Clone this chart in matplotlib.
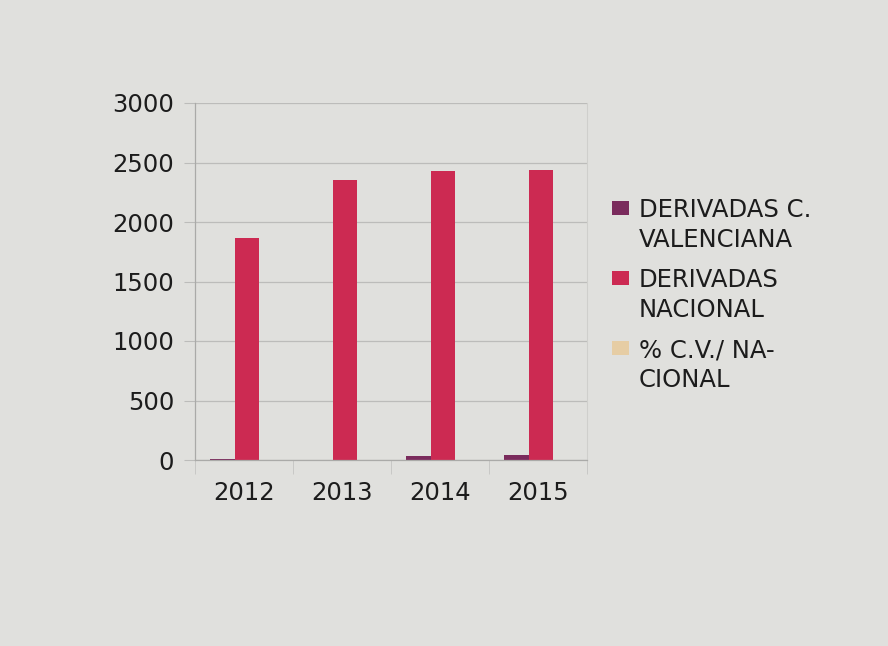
import numpy as np
import matplotlib.pyplot as plt
from matplotlib.patches import Rectangle

plt.rcParams['font.family'] = ['DejaVu Sans']

years = ['2012', '2013', '2014', '2015']
derivadas_cv = [12, 0, 30, 38]
derivadas_nacional = [1865, 2350, 2430, 2440]
pct_cv_nacional = [0.6, 0.0, 1.2, 1.6]

series_labels = ['DERIVADAS C.\nVALENCIANA', 'DERIVADAS\nNACIONAL', '% C.V./ NA-\nCIONAL']
colors = ['#7a2b5c', '#cc2a52', '#e6cda4']

paper = '#e0e0dd'
ink = '#1c1c1c'
W, H = 888, 646
fig = plt.figure(figsize=(W / 100, H / 100), dpi=100, facecolor=paper)
ax = fig.add_axes([195 / W, 1 - 460 / H, 392 / W, 357 / H])
ax.set_facecolor('none')

x = np.arange(len(years))
w = 0.25
shift = 0.03
ax.bar(x - w + shift, derivadas_cv, w, color=colors[0])
ax.bar(x + shift, derivadas_nacional, w, color=colors[1])
ax.bar(x + w + shift, pct_cv_nacional, w, color=colors[2])

ax.set_xlim(-0.5, len(years) - 0.5)
ax.set_ylim(0, 3000)
ax.set_yticks(range(0, 3001, 500))
ax.set_xticks(x)
ax.set_xticklabels(years)
ax.set_xticks(np.arange(-0.5, len(years), 1), minor=True)

ax.grid(axis='y', color='#bcbcba', linewidth=0.9)
ax.set_axisbelow(True)
ax.spines['top'].set_visible(False)
ax.spines['right'].set_color('#cfcfcc')
ax.spines['right'].set_linewidth(0.8)
for side in ['left', 'bottom']:
    ax.spines[side].set_color('#aaaaa8')
    ax.spines[side].set_linewidth(0.9)

ax.tick_params(axis='y', length=8, color='#bcbcba', pad=7, labelsize=17.5, labelcolor=ink)
ax.tick_params(axis='x', which='major', length=0, pad=15, labelsize=17.5, labelcolor=ink)
ax.tick_params(axis='x', which='minor', length=10, color='#c4c4c2')

# legend: square aligned with the first line of each two-line label
for i, (label, c) in enumerate(zip(series_labels, colors)):
    yc = 208 + 70 * i
    fig.patches.append(Rectangle((612 / W, 1 - (yc + 7) / H), 17 / W, 14 / H,
                                 transform=fig.transFigure, facecolor=c, edgecolor='none'))
    for j, line in enumerate(label.split('\n')):
        fig.text(639 / W, 1 - (yc + 30 * j + 9) / H, line, fontsize=17.5,
                 color=ink, va='baseline', ha='left')

fig.savefig('out.png', dpi=100, facecolor=paper)
